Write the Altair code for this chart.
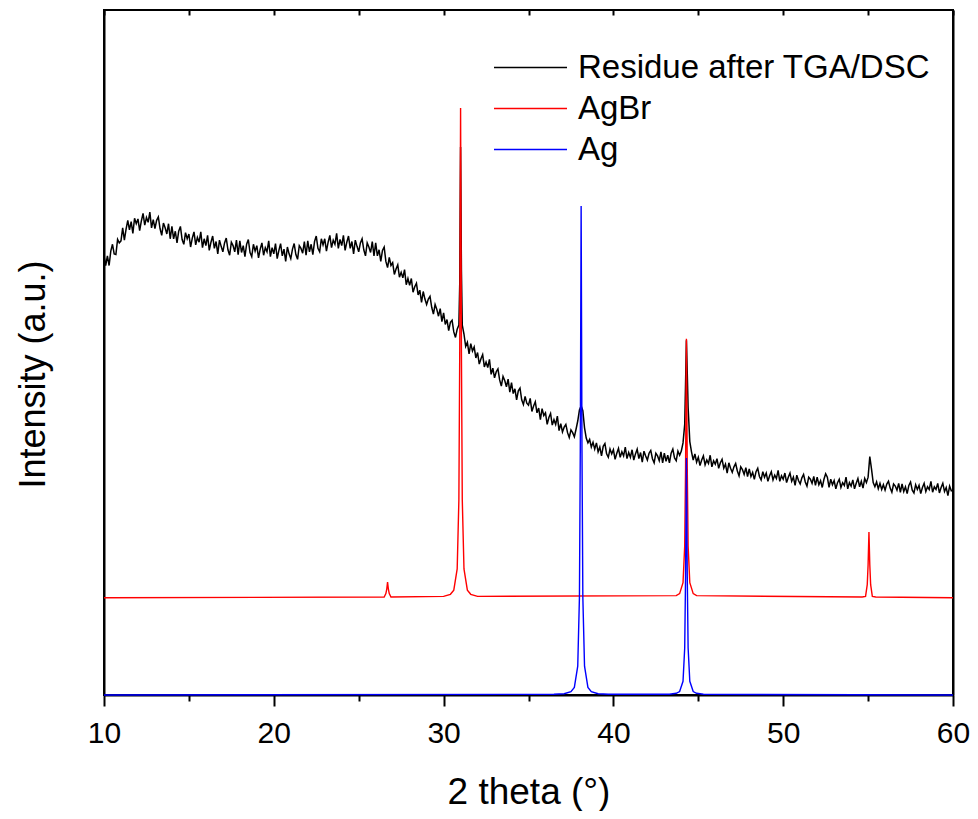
import altair as alt
import numpy as np
import pandas as pd

# ---- data (arbitrary intensity units) ----
series_names = ["Residue after TGA/DSC", "AgBr", "Ag"]
series_colors = ["#000000", "#ff0000", "#0000ff"]

x_ticks = [10, 20, 30, 40, 50, 60]
x_minor = [15, 25, 35, 45, 55]
x_top = [10, 15, 20, 25, 30, 35, 40, 45, 50, 55, 60]

# Residue: measured pattern, one row per degree (x.0 ... x.9), 10.0 to 60.0
res_grid = np.round(np.arange(10.0, 60.0001, 0.1), 2)
res_y = [
    64.1, 62.7, 64.1, 62.7, 64.8, 65.8, 64.4, 64.3, 66.5, 66.0,  # 10
    66.3, 68.2, 66.4, 68.0, 69.3, 67.9, 69.1, 67.4, 69.6, 68.8,  # 11
    69.5, 67.8, 69.2, 70.3, 68.6, 69.7, 69.0, 70.5, 68.2, 69.4,  # 12
    68.1, 69.3, 69.8, 68.1, 67.1, 68.9, 68.2, 67.3, 68.8, 66.6,  # 13
    68.4, 66.6, 67.7, 66.0, 67.7, 68.4, 66.5, 65.8, 67.5, 66.6,  # 14
    67.3, 65.4, 66.7, 67.6, 65.7, 66.8, 66.1, 67.6, 65.3, 66.6,  # 15
    65.6, 67.1, 64.9, 66.1, 67.0, 65.2, 66.2, 64.4, 66.4, 65.5,  # 16
    64.7, 66.0, 66.7, 65.0, 64.2, 66.1, 65.6, 64.7, 66.4, 64.3,  # 17
    66.3, 64.6, 65.6, 64.0, 65.8, 66.5, 64.6, 64.0, 65.8, 64.8,  # 18
    65.6, 63.8, 65.1, 66.0, 64.2, 65.3, 64.7, 66.3, 64.0, 65.3,  # 19
    64.4, 65.9, 63.7, 64.9, 65.9, 64.1, 65.1, 63.3, 65.4, 64.4,  # 20
    63.7, 65.1, 65.9, 64.3, 63.6, 65.6, 65.2, 64.5, 66.2, 64.2,  # 21
    66.3, 64.7, 65.8, 64.3, 66.2, 67.0, 65.2, 64.7, 66.6, 65.7,  # 22
    66.6, 64.8, 66.1, 67.1, 65.3, 66.4, 65.8, 67.4, 65.2, 66.5,  # 23
    65.6, 67.1, 64.9, 66.1, 67.0, 65.2, 66.2, 64.4, 66.4, 65.5,  # 24
    64.7, 66.0, 66.6, 65.0, 64.1, 66.0, 65.4, 64.6, 66.2, 64.1,  # 25
    66.0, 64.1, 65.0, 63.3, 64.9, 65.4, 63.3, 62.4, 63.9, 62.7,  # 26
    63.1, 61.4, 62.2, 62.8, 61.0, 61.7, 60.9, 62.1, 59.9, 60.8,  # 27
    59.8, 60.8, 58.8, 59.6, 60.1, 58.4, 59.1, 57.3, 58.9, 57.8,  # 28
    57.0, 57.8, 58.2, 56.6, 55.6, 57.0, 56.3, 55.3, 56.4, 54.5,  # 29
    55.8, 54.1, 54.8, 53.2, 54.4, 54.7, 53.0, 52.2, 53.4, 54.0,  # 30
    80.0, 54.0, 52.7, 50.9, 51.5, 49.8, 51.3, 50.2, 50.8, 49.2,  # 31
    50.0, 48.3, 49.1, 49.7, 47.9, 48.6, 47.8, 49.0, 46.8, 47.7,  # 32
    46.3, 47.2, 47.6, 46.0, 45.1, 46.5, 45.9, 45.0, 46.1, 44.2,  # 33
    45.6, 44.0, 44.7, 43.1, 44.4, 44.8, 43.1, 42.4, 43.6, 42.6,  # 34
    42.3, 43.3, 41.4, 42.2, 42.8, 41.2, 41.9, 40.2, 41.8, 40.8,  # 35
    41.2, 39.5, 40.5, 41.1, 39.4, 40.2, 39.5, 40.7, 38.6, 39.6,  # 36
    38.4, 39.1, 39.5, 38.3, 37.6, 38.7, 38.3, 37.7, 38.8, 40.0,  # 37
    41.6, 42.2, 41.5, 39.0, 37.5, 36.8, 37.3, 36.2, 36.9, 35.9,  # 38
    36.8, 35.5, 36.2, 34.9, 36.3, 36.7, 35.2, 34.7, 35.9, 35.2,  # 39
    35.8, 34.4, 35.3, 36.0, 34.7, 35.5, 34.9, 36.2, 34.5, 35.4,  # 40
    34.7, 35.8, 34.3, 35.2, 35.9, 34.5, 35.4, 34.0, 35.6, 34.9,  # 41
    34.3, 35.3, 35.7, 34.5, 33.9, 35.3, 34.9, 34.2, 35.5, 33.9,  # 42
    35.3, 34.1, 35.0, 33.9, 35.3, 35.9, 34.6, 34.2, 35.6, 35.0,  # 43
    35.6, 36.8, 39.5, 51.8, 42.0, 37.0, 35.5, 34.3, 35.2, 34.0,  # 44
    34.7, 33.5, 34.3, 34.9, 33.6, 34.3, 33.8, 35.0, 33.3, 34.2,  # 45
    33.7, 34.5, 33.1, 33.9, 34.4, 33.1, 33.7, 32.4, 33.9, 33.1,  # 46
    32.5, 33.3, 33.8, 32.7, 32.0, 33.3, 32.9, 32.2, 33.2, 31.9,  # 47
    33.0, 31.9, 32.5, 31.5, 32.6, 33.1, 31.9, 31.4, 32.6, 31.8,  # 48
    32.4, 31.2, 32.0, 32.6, 31.4, 32.1, 31.6, 32.8, 31.2, 32.0,  # 49
    31.5, 32.4, 31.0, 31.8, 32.4, 31.2, 31.8, 30.6, 32.1, 31.3,  # 50
    30.8, 31.7, 32.2, 31.1, 30.5, 31.8, 31.5, 30.9, 31.9, 30.6,  # 51
    31.8, 30.7, 31.3, 30.3, 31.5, 32.3, 31.8, 30.3, 31.5, 30.7,  # 52
    31.3, 30.1, 31.0, 31.5, 30.3, 31.0, 30.6, 31.8, 30.1, 31.0,  # 53
    30.5, 31.4, 30.1, 30.9, 31.6, 30.4, 31.2, 30.2, 31.6, 31.0,  # 54
    31.8, 34.8, 33.0, 31.0, 30.4, 31.1, 30.1, 30.9, 30.0, 30.7,  # 55
    29.9, 30.8, 31.2, 30.2, 29.6, 30.8, 30.5, 29.9, 30.9, 29.6,  # 56
    30.8, 29.7, 30.4, 29.4, 30.6, 31.1, 29.9, 29.5, 30.7, 30.0,  # 57
    30.6, 29.4, 30.3, 30.9, 29.7, 30.4, 30.0, 31.2, 29.6, 30.4,  # 58
    30.0, 30.9, 29.5, 30.3, 30.9, 29.7, 30.3, 29.1, 30.5, 29.8,  # 59
    29.9,                                                        # 60
]
# extra points on the flanks of the residue peaks
res_peak_x = [30.95, 31.05, 44.25, 44.35]
res_peak_y = [60.0, 62.0, 45.5, 47.0]

agbr_x = [10.0, 26.5, 26.6, 26.65, 26.7, 26.75, 26.8, 26.9,
          30.0, 30.4, 30.6, 30.8, 30.9, 30.95, 31.0, 31.05, 31.1, 31.2, 31.4, 31.6, 32.0,
          43.7, 43.9, 44.1, 44.2, 44.25, 44.3, 44.35, 44.4, 44.5, 44.7, 44.9,
          54.65, 54.85, 54.95, 55.0, 55.05, 55.1, 55.15, 55.25, 55.45, 60.0]
agbr_y = [14.2, 14.3, 14.8, 15.4, 16.5, 15.4, 14.8, 14.3,
          14.4, 14.7, 15.3, 18.4, 28.5, 50.0, 85.7, 50.0, 28.5, 18.4, 15.3, 14.7, 14.4,
          14.5, 14.8, 16.4, 21.8, 33.1, 52.0, 33.1, 21.8, 16.4, 14.8, 14.5,
          14.3, 14.4, 16.1, 19.0, 23.8, 19.0, 16.1, 14.4, 14.3, 14.2]

ag_x = [10.0, 36.5, 37.1, 37.5, 37.7, 37.9, 38.0, 38.05, 38.1, 38.15, 38.2, 38.3, 38.5, 38.7, 39.1, 39.7,
        43.3, 43.7, 43.9, 44.1, 44.2, 44.25, 44.3, 44.35, 44.4, 44.5, 44.7, 44.9, 45.3, 60.0]
ag_y = [0.0, 0.1, 0.18, 0.5, 1.1, 4.2, 14.3, 35.7, 71.4, 35.7, 14.3, 4.2, 1.1, 0.5, 0.18, 0.1,
        0.1, 0.25, 0.5, 2.0, 6.9, 17.3, 34.6, 17.3, 6.9, 2.0, 0.5, 0.25, 0.1, 0.0]

# ---- tables ----
res_df = pd.DataFrame({
    "x": list(res_grid) + res_peak_x,
    "y": res_y + res_peak_y,
}).sort_values("x")
res_df["series"] = series_names[0]
agbr_df = pd.DataFrame({"x": agbr_x, "y": agbr_y, "series": series_names[1]})
ag_df = pd.DataFrame({"x": ag_x, "y": ag_y, "series": series_names[2]})

W, H = 849, 685
FONT = "Liberation Sans"

xscale = alt.Scale(domain=[10, 60], nice=False, zero=False)
yscale = alt.Scale(domain=[0, 100], nice=False, zero=False)
color = alt.Color(
    "series:N",
    scale=alt.Scale(domain=series_names, range=series_colors),
    legend=alt.Legend(
        orient="none", legendX=389, legendY=41, title=None,
        symbolType="stroke", symbolSize=5329, symbolStrokeWidth=1.3,
        labelFontSize=33, labelFont=FONT, labelColor="black",
        labelOffset=10, clipHeight=33, rowPadding=7, padding=0, labelLimit=600,
    ),
)

base_axis = dict(grid=False, domainColor="black", tickColor="black")

black = alt.Chart(res_df).mark_line(strokeWidth=1.5).encode(
    x=alt.X("x:Q", scale=xscale, axis=alt.Axis(
        orient="bottom", title="2 theta (°)", values=x_ticks, format="d",
        tickSize=11, tickWidth=2, domainWidth=2, labelFlush=False,
        labelFontSize=30, labelFont=FONT, labelColor="black", labelPadding=12,
        titleFontSize=37, titleFont=FONT, titleFontWeight="normal",
        titleColor="black", titlePadding=26, **base_axis)),
    y=alt.Y("y:Q", scale=yscale, axis=alt.Axis(
        orient="left", title="Intensity (a.u.)", labels=False, ticks=False, domainWidth=2,
        titleFontSize=36, titleFont=FONT, titleFontWeight="normal", titleColor="black",
        titlePadding=52, titleY=364, **base_axis)),
    color=color,
    order=alt.Order("x:Q"),
)

red = alt.Chart(agbr_df).mark_line(strokeWidth=1.4).encode(
    x=alt.X("x:Q", scale=xscale, axis=alt.Axis(
        orient="bottom", title=None, values=x_minor, labels=False, domain=False,
        tickSize=6, tickWidth=2, **base_axis)),
    y=alt.Y("y:Q", scale=yscale, axis=alt.Axis(
        orient="right", title=None, labels=False, ticks=False, domainWidth=2, **base_axis)),
    color=color,
    order=alt.Order("x:Q"),
)

blue = alt.Chart(ag_df).mark_line(strokeWidth=1.4).encode(
    x=alt.X("x:Q", scale=xscale, axis=alt.Axis(
        orient="top", title=None, values=x_top, labels=False, domain=False,
        tickSize=5, tickWidth=2, offset=-5, **base_axis)),
    y=alt.Y("y:Q", scale=yscale, axis=None),
    color=color,
    order=alt.Order("x:Q"),
)

chart = alt.layer(black, red, blue).resolve_axis(
    x="independent", y="independent"
).properties(
    width=W, height=H,
    autosize=alt.AutoSizeParams(type="none"),
    padding={"left": 96, "top": 2, "right": 17, "bottom": 116},
).configure_view(stroke="black", strokeWidth=2)

chart.save("out.html", embed_options={"renderer": "svg", "actions": False})
